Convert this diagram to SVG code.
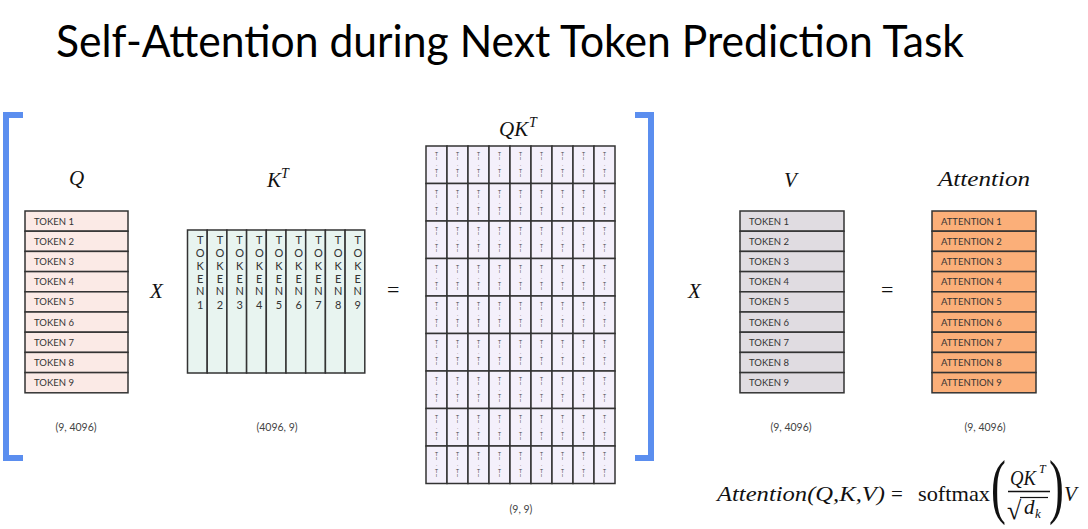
<svg xmlns="http://www.w3.org/2000/svg" width="1088" height="529" viewBox="0 0 1088 529">
<style>
.title{font-family:Lato,"Open Sans",sans-serif;font-size:44px;fill:#000}
.math{font-family:"Liberation Serif",serif;font-style:italic;font-size:21px;fill:#111}
.up{font-family:"Liberation Serif",serif;font-size:21px;fill:#111}
.sup{font-family:"Liberation Serif",serif;font-style:italic;font-size:14px;fill:#111}
.lbl{font-family:Lato,"Open Sans",sans-serif;font-size:9.5px;fill:#333}
.vl{font-family:Lato,"Open Sans",sans-serif;font-size:11px;fill:#333;text-anchor:middle}
.dim{font-family:Lato,"Open Sans",sans-serif;font-size:10.5px;fill:#444;text-anchor:middle}
.tiny{font-family:"Liberation Sans",sans-serif;font-size:5px;fill:#444;text-anchor:middle}
.cell{stroke:#333;stroke-width:1.5}
.q{fill:#FBEAE6}
.k{fill:#E8F4F0}
.qk{fill:#F4F0FB}
.v{fill:#E0DCE1}
.a{fill:#FBAF79}
.br{fill:none;stroke:#5B8EEF;stroke-width:6}
.op{font-family:"Liberation Serif",serif;font-size:22px;fill:#111}
</style>
<defs>
<g id="qkcell">
<rect class="cell qk" x="0" y="0" width="21" height="37.5"/>
<text class="tiny" x="10.5" y="10">T</text>
<text class="tiny" x="10.5" y="14">ı</text>
<text class="tiny" x="10.5" y="21">·</text>
<text class="tiny" x="10.5" y="27">T</text>
<text class="tiny" x="10.5" y="31">ı</text>
</g>
</defs>
<text class="title" x="56" y="57" textLength="908" lengthAdjust="spacingAndGlyphs">Self-Attention during Next Token Prediction Task</text>

<g id="brackets">
<path class="br" d="M23,115 H6 V458 H23"/>
<path class="br" d="M635,115 H651 V458 H635"/>
</g>

<g id="Q">
<text class="math" x="69" y="185">Q</text>
<rect class="cell q" x="25" y="211" width="103" height="20.2"/>
<rect class="cell q" x="25" y="231.2" width="103" height="20.2"/>
<rect class="cell q" x="25" y="251.4" width="103" height="20.2"/>
<rect class="cell q" x="25" y="271.6" width="103" height="20.2"/>
<rect class="cell q" x="25" y="291.8" width="103" height="20.2"/>
<rect class="cell q" x="25" y="312" width="103" height="20.2"/>
<rect class="cell q" x="25" y="332.2" width="103" height="20.2"/>
<rect class="cell q" x="25" y="352.4" width="103" height="20.2"/>
<rect class="cell q" x="25" y="372.6" width="103" height="20.2"/>
<text class="lbl" x="34" y="224.5">TOKEN 1</text>
<text class="lbl" x="34" y="244.7">TOKEN 2</text>
<text class="lbl" x="34" y="264.9">TOKEN 3</text>
<text class="lbl" x="34" y="285.1">TOKEN 4</text>
<text class="lbl" x="34" y="305.3">TOKEN 5</text>
<text class="lbl" x="34" y="325.5">TOKEN 6</text>
<text class="lbl" x="34" y="345.7">TOKEN 7</text>
<text class="lbl" x="34" y="365.9">TOKEN 8</text>
<text class="lbl" x="34" y="386.1">TOKEN 9</text>
<text class="dim" x="76" y="431">(9, 4096)</text>
</g>

<g id="opX1"><text class="math" x="150" y="298">X</text></g>

<g id="KT">
<text class="math" x="267" y="187">K</text><text class="sup" x="281" y="178">T</text>
<rect class="cell k" x="187.5" y="230" width="19.7" height="143"/>
<rect class="cell k" x="207.2" y="230" width="19.7" height="143"/>
<rect class="cell k" x="226.9" y="230" width="19.7" height="143"/>
<rect class="cell k" x="246.6" y="230" width="19.7" height="143"/>
<rect class="cell k" x="266.3" y="230" width="19.7" height="143"/>
<rect class="cell k" x="286" y="230" width="19.7" height="143"/>
<rect class="cell k" x="305.7" y="230" width="19.7" height="143"/>
<rect class="cell k" x="325.4" y="230" width="19.7" height="143"/>
<rect class="cell k" x="345.1" y="230" width="19.7" height="143"/>
<text class="vl"><tspan x="200.2" y="243.5">T</tspan><tspan x="200.2" y="256.5">O</tspan><tspan x="200.2" y="269.5">K</tspan><tspan x="200.2" y="282.5">E</tspan><tspan x="200.2" y="295">N</tspan><tspan x="200.2" y="308.5">1</tspan></text>
<text class="vl"><tspan x="219.9" y="243.5">T</tspan><tspan x="219.9" y="256.5">O</tspan><tspan x="219.9" y="269.5">K</tspan><tspan x="219.9" y="282.5">E</tspan><tspan x="219.9" y="295">N</tspan><tspan x="219.9" y="308.5">2</tspan></text>
<text class="vl"><tspan x="239.6" y="243.5">T</tspan><tspan x="239.6" y="256.5">O</tspan><tspan x="239.6" y="269.5">K</tspan><tspan x="239.6" y="282.5">E</tspan><tspan x="239.6" y="295">N</tspan><tspan x="239.6" y="308.5">3</tspan></text>
<text class="vl"><tspan x="259.3" y="243.5">T</tspan><tspan x="259.3" y="256.5">O</tspan><tspan x="259.3" y="269.5">K</tspan><tspan x="259.3" y="282.5">E</tspan><tspan x="259.3" y="295">N</tspan><tspan x="259.3" y="308.5">4</tspan></text>
<text class="vl"><tspan x="279" y="243.5">T</tspan><tspan x="279" y="256.5">O</tspan><tspan x="279" y="269.5">K</tspan><tspan x="279" y="282.5">E</tspan><tspan x="279" y="295">N</tspan><tspan x="279" y="308.5">5</tspan></text>
<text class="vl"><tspan x="298.7" y="243.5">T</tspan><tspan x="298.7" y="256.5">O</tspan><tspan x="298.7" y="269.5">K</tspan><tspan x="298.7" y="282.5">E</tspan><tspan x="298.7" y="295">N</tspan><tspan x="298.7" y="308.5">6</tspan></text>
<text class="vl"><tspan x="318.4" y="243.5">T</tspan><tspan x="318.4" y="256.5">O</tspan><tspan x="318.4" y="269.5">K</tspan><tspan x="318.4" y="282.5">E</tspan><tspan x="318.4" y="295">N</tspan><tspan x="318.4" y="308.5">7</tspan></text>
<text class="vl"><tspan x="338.1" y="243.5">T</tspan><tspan x="338.1" y="256.5">O</tspan><tspan x="338.1" y="269.5">K</tspan><tspan x="338.1" y="282.5">E</tspan><tspan x="338.1" y="295">N</tspan><tspan x="338.1" y="308.5">8</tspan></text>
<text class="vl"><tspan x="357.8" y="243.5">T</tspan><tspan x="357.8" y="256.5">O</tspan><tspan x="357.8" y="269.5">K</tspan><tspan x="357.8" y="282.5">E</tspan><tspan x="357.8" y="295">N</tspan><tspan x="357.8" y="308.5">9</tspan></text>
<text class="dim" x="277" y="431">(4096, 9)</text>
</g>

<g id="opEq1"><text class="op" x="387" y="297">=</text></g>

<g id="QKT">
<text class="math" x="499" y="136">QK</text><text class="sup" x="529" y="127">T</text>
<g transform="translate(426,146)">
<use href="#qkcell" x="0" y="0"/><use href="#qkcell" x="21" y="0"/><use href="#qkcell" x="42" y="0"/><use href="#qkcell" x="63" y="0"/><use href="#qkcell" x="84" y="0"/><use href="#qkcell" x="105" y="0"/><use href="#qkcell" x="126" y="0"/><use href="#qkcell" x="147" y="0"/><use href="#qkcell" x="168" y="0"/>
<use href="#qkcell" x="0" y="37.5"/><use href="#qkcell" x="21" y="37.5"/><use href="#qkcell" x="42" y="37.5"/><use href="#qkcell" x="63" y="37.5"/><use href="#qkcell" x="84" y="37.5"/><use href="#qkcell" x="105" y="37.5"/><use href="#qkcell" x="126" y="37.5"/><use href="#qkcell" x="147" y="37.5"/><use href="#qkcell" x="168" y="37.5"/>
<use href="#qkcell" x="0" y="75"/><use href="#qkcell" x="21" y="75"/><use href="#qkcell" x="42" y="75"/><use href="#qkcell" x="63" y="75"/><use href="#qkcell" x="84" y="75"/><use href="#qkcell" x="105" y="75"/><use href="#qkcell" x="126" y="75"/><use href="#qkcell" x="147" y="75"/><use href="#qkcell" x="168" y="75"/>
<use href="#qkcell" x="0" y="112.5"/><use href="#qkcell" x="21" y="112.5"/><use href="#qkcell" x="42" y="112.5"/><use href="#qkcell" x="63" y="112.5"/><use href="#qkcell" x="84" y="112.5"/><use href="#qkcell" x="105" y="112.5"/><use href="#qkcell" x="126" y="112.5"/><use href="#qkcell" x="147" y="112.5"/><use href="#qkcell" x="168" y="112.5"/>
<use href="#qkcell" x="0" y="150"/><use href="#qkcell" x="21" y="150"/><use href="#qkcell" x="42" y="150"/><use href="#qkcell" x="63" y="150"/><use href="#qkcell" x="84" y="150"/><use href="#qkcell" x="105" y="150"/><use href="#qkcell" x="126" y="150"/><use href="#qkcell" x="147" y="150"/><use href="#qkcell" x="168" y="150"/>
<use href="#qkcell" x="0" y="187.5"/><use href="#qkcell" x="21" y="187.5"/><use href="#qkcell" x="42" y="187.5"/><use href="#qkcell" x="63" y="187.5"/><use href="#qkcell" x="84" y="187.5"/><use href="#qkcell" x="105" y="187.5"/><use href="#qkcell" x="126" y="187.5"/><use href="#qkcell" x="147" y="187.5"/><use href="#qkcell" x="168" y="187.5"/>
<use href="#qkcell" x="0" y="225"/><use href="#qkcell" x="21" y="225"/><use href="#qkcell" x="42" y="225"/><use href="#qkcell" x="63" y="225"/><use href="#qkcell" x="84" y="225"/><use href="#qkcell" x="105" y="225"/><use href="#qkcell" x="126" y="225"/><use href="#qkcell" x="147" y="225"/><use href="#qkcell" x="168" y="225"/>
<use href="#qkcell" x="0" y="262.5"/><use href="#qkcell" x="21" y="262.5"/><use href="#qkcell" x="42" y="262.5"/><use href="#qkcell" x="63" y="262.5"/><use href="#qkcell" x="84" y="262.5"/><use href="#qkcell" x="105" y="262.5"/><use href="#qkcell" x="126" y="262.5"/><use href="#qkcell" x="147" y="262.5"/><use href="#qkcell" x="168" y="262.5"/>
<use href="#qkcell" x="0" y="300"/><use href="#qkcell" x="21" y="300"/><use href="#qkcell" x="42" y="300"/><use href="#qkcell" x="63" y="300"/><use href="#qkcell" x="84" y="300"/><use href="#qkcell" x="105" y="300"/><use href="#qkcell" x="126" y="300"/><use href="#qkcell" x="147" y="300"/><use href="#qkcell" x="168" y="300"/>
</g>
<text class="dim" x="521" y="513">(9, 9)</text>
</g>

<g id="opX2"><text class="math" x="688" y="298">X</text></g>

<g id="V">
<text class="math" x="784" y="187">V</text>
<rect class="cell v" x="740" y="211" width="104" height="20.2"/>
<rect class="cell v" x="740" y="231.2" width="104" height="20.2"/>
<rect class="cell v" x="740" y="251.4" width="104" height="20.2"/>
<rect class="cell v" x="740" y="271.6" width="104" height="20.2"/>
<rect class="cell v" x="740" y="291.8" width="104" height="20.2"/>
<rect class="cell v" x="740" y="312" width="104" height="20.2"/>
<rect class="cell v" x="740" y="332.2" width="104" height="20.2"/>
<rect class="cell v" x="740" y="352.4" width="104" height="20.2"/>
<rect class="cell v" x="740" y="372.6" width="104" height="20.2"/>
<text class="lbl" x="749" y="224.5">TOKEN 1</text>
<text class="lbl" x="749" y="244.7">TOKEN 2</text>
<text class="lbl" x="749" y="264.9">TOKEN 3</text>
<text class="lbl" x="749" y="285.1">TOKEN 4</text>
<text class="lbl" x="749" y="305.3">TOKEN 5</text>
<text class="lbl" x="749" y="325.5">TOKEN 6</text>
<text class="lbl" x="749" y="345.7">TOKEN 7</text>
<text class="lbl" x="749" y="365.9">TOKEN 8</text>
<text class="lbl" x="749" y="386.1">TOKEN 9</text>
<text class="dim" x="791" y="431">(9, 4096)</text>
</g>

<g id="opEq2"><text class="op" x="881" y="297">=</text></g>

<g id="Attention">
<text class="math" x="938" y="186" textLength="92" lengthAdjust="spacingAndGlyphs">Attention</text>
<rect class="cell a" x="932" y="211" width="104" height="20.2"/>
<rect class="cell a" x="932" y="231.2" width="104" height="20.2"/>
<rect class="cell a" x="932" y="251.4" width="104" height="20.2"/>
<rect class="cell a" x="932" y="271.6" width="104" height="20.2"/>
<rect class="cell a" x="932" y="291.8" width="104" height="20.2"/>
<rect class="cell a" x="932" y="312" width="104" height="20.2"/>
<rect class="cell a" x="932" y="332.2" width="104" height="20.2"/>
<rect class="cell a" x="932" y="352.4" width="104" height="20.2"/>
<rect class="cell a" x="932" y="372.6" width="104" height="20.2"/>
<text class="lbl" x="941" y="224.5">ATTENTION 1</text>
<text class="lbl" x="941" y="244.7">ATTENTION 2</text>
<text class="lbl" x="941" y="264.9">ATTENTION 3</text>
<text class="lbl" x="941" y="285.1">ATTENTION 4</text>
<text class="lbl" x="941" y="305.3">ATTENTION 5</text>
<text class="lbl" x="941" y="325.5">ATTENTION 6</text>
<text class="lbl" x="941" y="345.7">ATTENTION 7</text>
<text class="lbl" x="941" y="365.9">ATTENTION 8</text>
<text class="lbl" x="941" y="386.1">ATTENTION 9</text>
<text class="dim" x="985" y="431">(9, 4096)</text>
</g>

<g id="formula">
<text class="math" x="717" y="501" textLength="168" lengthAdjust="spacingAndGlyphs">Attention(Q,K,V)</text>
<text class="up" x="891" y="501">=</text>
<text class="up" x="918" y="501" textLength="72" lengthAdjust="spacingAndGlyphs">softmax</text>
<text class="up" style="font-size:72px" transform="translate(991,510) scale(0.62,1)">(</text>
<text class="math" x="1010" y="485" textLength="26" lengthAdjust="spacingAndGlyphs">QK</text>
<text class="sup" x="1039" y="473" style="font-size:12px">T</text>
<line x1="1008" y1="491.5" x2="1050" y2="491.5" stroke="#111" stroke-width="1.3"/>
<text class="up" x="1007" y="519" style="font-size:26px">√</text>
<line x1="1020" y1="497.5" x2="1048" y2="497.5" stroke="#111" stroke-width="1.2"/>
<text class="math" x="1024" y="514">d</text>
<text class="sup" x="1035" y="518" style="font-size:13px">k</text>
<text class="up" style="font-size:72px" transform="translate(1049,510) scale(0.62,1)">)</text>
<text class="math" x="1064" y="501">V</text>
</g>
</svg>
